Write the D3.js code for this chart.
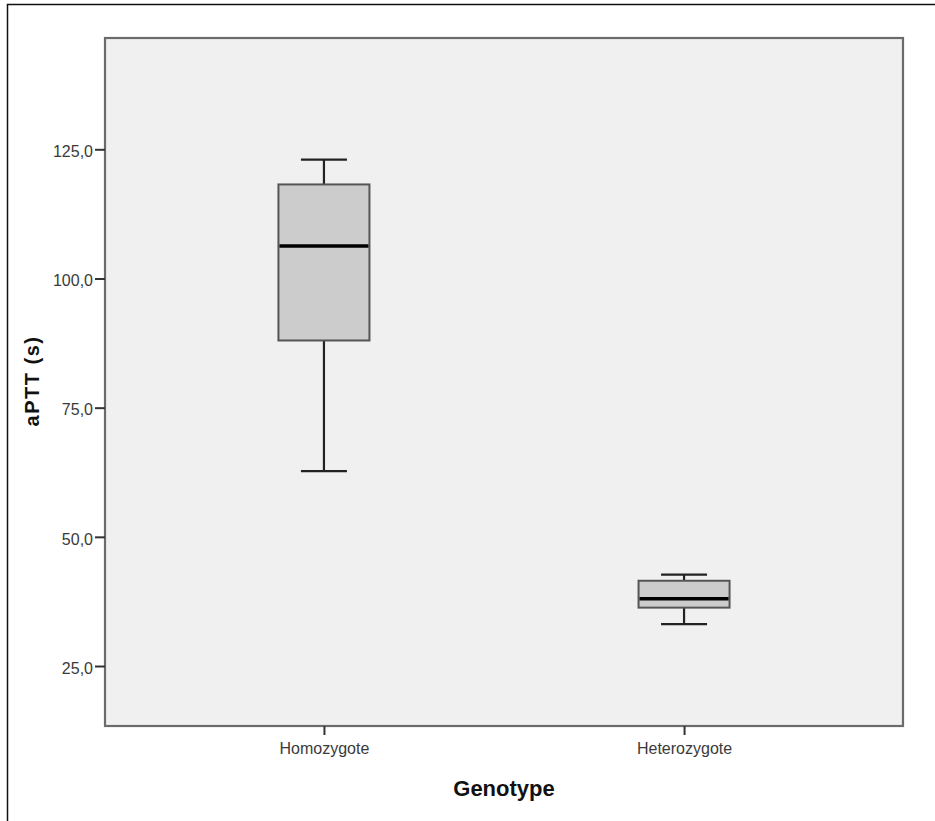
<!DOCTYPE html>
<html lang="en">
<head>
    <meta charset="UTF-8">
    <title>aPTT by Genotype</title>
    <script src="https://d3js.org/d3.v7.min.js"></script>
    <style>
        body { margin: 0; background: #fff; }
        text { font-family: "Liberation Sans", Arial, sans-serif; }
    </style>
</head>
<body>
    <div id="chart"></div>
    <script>
        const width = 935;
        const height = 821;

        // data
        const genotypes = ["Homozygote", "Heterozygote"];
        const whiskerLow = [62.7, 33.1];
        const q1 = [88.0, 36.3];
        const median = [106.3, 38.0];
        const q3 = [118.2, 41.5];
        const whiskerHigh = [123.0, 42.7];
        const yTicks = [25, 50, 75, 100, 125];

        const plot = { left: 105, right: 903, top: 38, bottom: 726 };

        const svg = d3.select("#chart")
            .append("svg")
            .attr("width", width)
            .attr("height", height)
            .style("display", "block");

        // outer frame (only top and left edges show in the picture)
        svg.append("path")
            .attr("d", `M7.5,${height} V4.5 H${width}`)
            .attr("fill", "none")
            .attr("stroke", "#111")
            .attr("stroke-width", 1.5);

        const x = d3.scalePoint()
            .domain(genotypes)
            .range([plot.left, plot.right])
            .padding(0.608);

        const y = d3.scaleLinear()
            .domain([13.39, 146.54])
            .range([plot.bottom, plot.top]);

        // plot background
        svg.append("rect")
            .attr("x", plot.left)
            .attr("y", plot.top)
            .attr("width", plot.right - plot.left)
            .attr("height", plot.bottom - plot.top)
            .attr("fill", "#f0f0f0")
            .attr("stroke", "#6b6b6b")
            .attr("stroke-width", 2.2);

        const fmt = d => d3.format(".1f")(d).replace(".", ",");

        // y axis
        const yAxis = svg.append("g")
            .attr("transform", `translate(${plot.left},0)`)
            .call(d3.axisLeft(y).tickValues(yTicks).tickFormat(fmt).tickSize(10).tickPadding(2));
        yAxis.select(".domain").remove();
        yAxis.selectAll(".tick line").attr("stroke", "#333").attr("stroke-width", 2);
        yAxis.selectAll(".tick text")
            .attr("fill", "#3a3a3a")
            .attr("font-size", 16)
            .attr("dy", "0.45em")
            .style("font-family", "'Liberation Sans', Arial, sans-serif");

        // x axis
        const xAxis = svg.append("g")
            .attr("transform", `translate(0,${plot.bottom})`)
            .call(d3.axisBottom(x).tickSize(9).tickPadding(8));
        xAxis.select(".domain").remove();
        xAxis.selectAll(".tick line").attr("stroke", "#333").attr("stroke-width", 2);
        xAxis.selectAll(".tick text")
            .attr("fill", "#3a3a3a")
            .attr("font-size", 16)
            .style("font-family", "'Liberation Sans', Arial, sans-serif");

        // boxes
        const boxWidth = 91;
        const capWidth = 46;
        const boxes = svg.append("g")
            .selectAll("g")
            .data(genotypes)
            .enter()
            .append("g");

        boxes.append("line")
            .attr("x1", d => x(d)).attr("x2", d => x(d))
            .attr("y1", (d, i) => y(whiskerHigh[i]))
            .attr("y2", (d, i) => y(q3[i]))
            .attr("stroke", "#222").attr("stroke-width", 2.2);

        boxes.append("line")
            .attr("x1", d => x(d)).attr("x2", d => x(d))
            .attr("y1", (d, i) => y(q1[i]))
            .attr("y2", (d, i) => y(whiskerLow[i]))
            .attr("stroke", "#222").attr("stroke-width", 2.2);

        boxes.append("line")
            .attr("x1", d => x(d) - capWidth / 2).attr("x2", d => x(d) + capWidth / 2)
            .attr("y1", (d, i) => y(whiskerHigh[i]))
            .attr("y2", (d, i) => y(whiskerHigh[i]))
            .attr("stroke", "#222").attr("stroke-width", 2.2);

        boxes.append("line")
            .attr("x1", d => x(d) - capWidth / 2).attr("x2", d => x(d) + capWidth / 2)
            .attr("y1", (d, i) => y(whiskerLow[i]))
            .attr("y2", (d, i) => y(whiskerLow[i]))
            .attr("stroke", "#222").attr("stroke-width", 2.2);

        boxes.append("rect")
            .attr("x", d => x(d) - boxWidth / 2)
            .attr("y", (d, i) => y(q3[i]))
            .attr("width", boxWidth)
            .attr("height", (d, i) => y(q1[i]) - y(q3[i]))
            .attr("fill", "#cccccc")
            .attr("stroke", "#555")
            .attr("stroke-width", 2);

        boxes.append("line")
            .attr("x1", d => x(d) - boxWidth / 2 + 1).attr("x2", d => x(d) + boxWidth / 2 - 1)
            .attr("y1", (d, i) => y(median[i]))
            .attr("y2", (d, i) => y(median[i]))
            .attr("stroke", "#000").attr("stroke-width", 3.5);

        // axis titles
        svg.append("text")
            .attr("x", (plot.left + plot.right) / 2)
            .attr("y", 796)
            .attr("text-anchor", "middle")
            .attr("font-size", 22)
            .attr("font-weight", "bold")
            .attr("fill", "#111")
            .text("Genotype");

        svg.append("text")
            .attr("transform", `translate(39,${(plot.top + plot.bottom) / 2 - 1}) rotate(-90)`)
            .attr("text-anchor", "middle")
            .attr("font-size", 20)
            .attr("font-weight", "bold")
            .attr("letter-spacing", 1.5)
            .attr("fill", "#111")
            .text("aPTT (s)");
    </script>
</body>
</html>
